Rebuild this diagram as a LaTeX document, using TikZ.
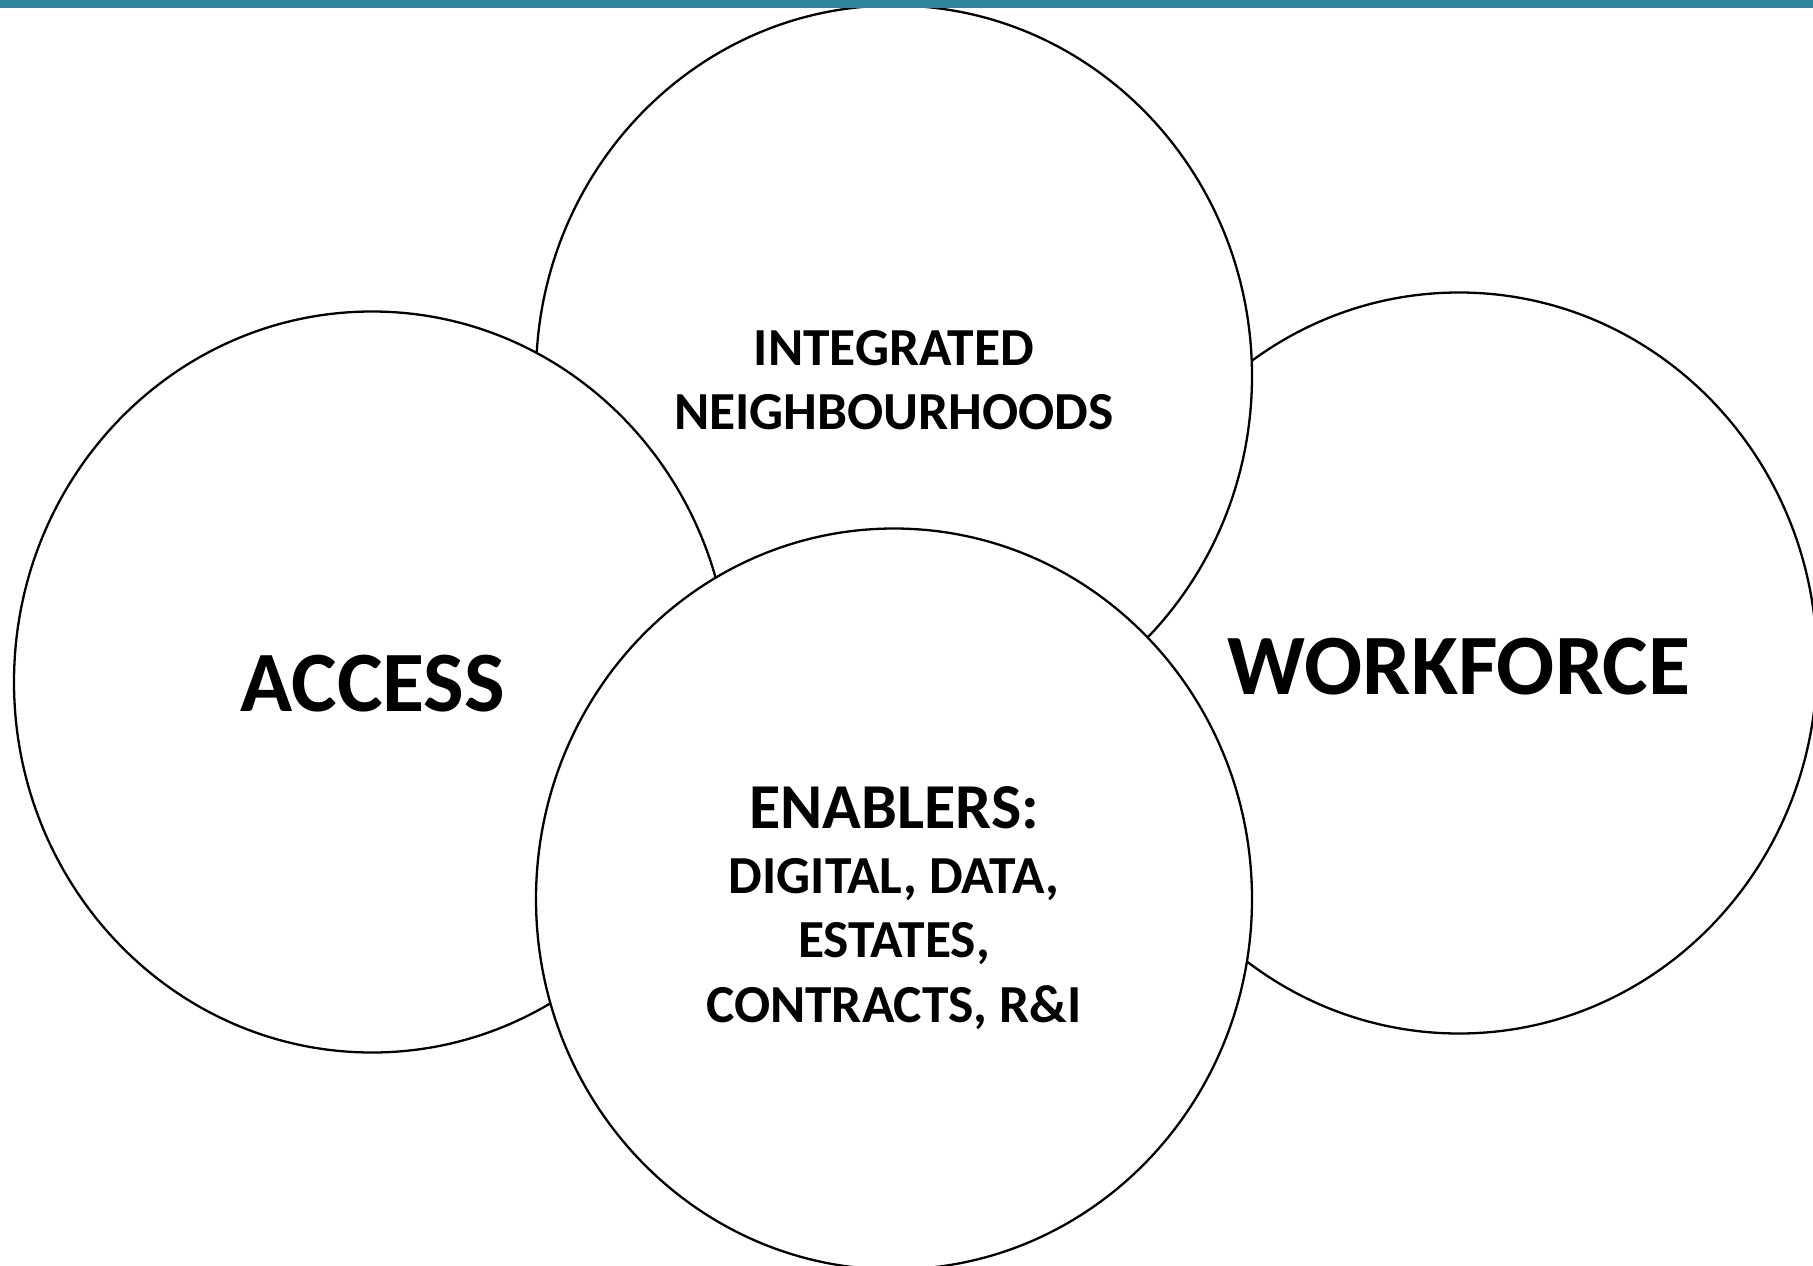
\documentclass[tikz,border=0pt]{standalone}
\usepackage{fontspec}
\setmainfont{Carlito}
\usetikzlibrary{shapes.geometric}
\definecolor{barteal}{RGB}{49,134,158}
\tikzset{
  ring/.style={draw=black, fill=white, ellipse, line width=2.3pt, inner sep=0pt,
    minimum width=716pt, minimum height=741pt},
  bigtxt/.style={font=\bfseries\fontsize{86}{100}\selectfont, anchor=base, inner sep=0pt},
  midtxt/.style={font=\bfseries\fontsize{53.5}{64}\selectfont, anchor=base, inner sep=0pt},
  headtxt/.style={font=\bfseries\fontsize{64}{76}\selectfont, anchor=base, inner sep=0pt}
}
\begin{document}
\begin{tikzpicture}[x=1pt,y=-1pt]
\useasboundingbox (0,0) rectangle (1813,1266);
\fill[white] (0,0) rectangle (1813,1266);
% circles, back to front
\node[ring] (workforce) at (1459,663) {};
\node[ring] (integrated) at (894,376) {};
\node[ring] (access) at (372,682) {};
\node[ring] (enablers) at (894,899) {};
% texts
\node[midtxt] (t1) at (894,365) {INTEGRATED};
\node[midtxt] (t2) at (894,429) {NEIGHBOURHOODS};
\node[bigtxt] (t3) at (373,711) {ACCESS};
\node[bigtxt] (t4) at (1459,694) {WORKFORCE};
\node[headtxt] (t5) at (894,828) {ENABLERS:};
\node[midtxt] (t6) at (894,893) {DIGITAL, DATA,};
\node[midtxt] (t7) at (894,957) {ESTATES,};
\node[midtxt] (t8) at (894,1022) {CONTRACTS, R\&I};
% top bar
\fill[barteal] (0,0) rectangle (1813,8);
\end{tikzpicture}
\end{document}
